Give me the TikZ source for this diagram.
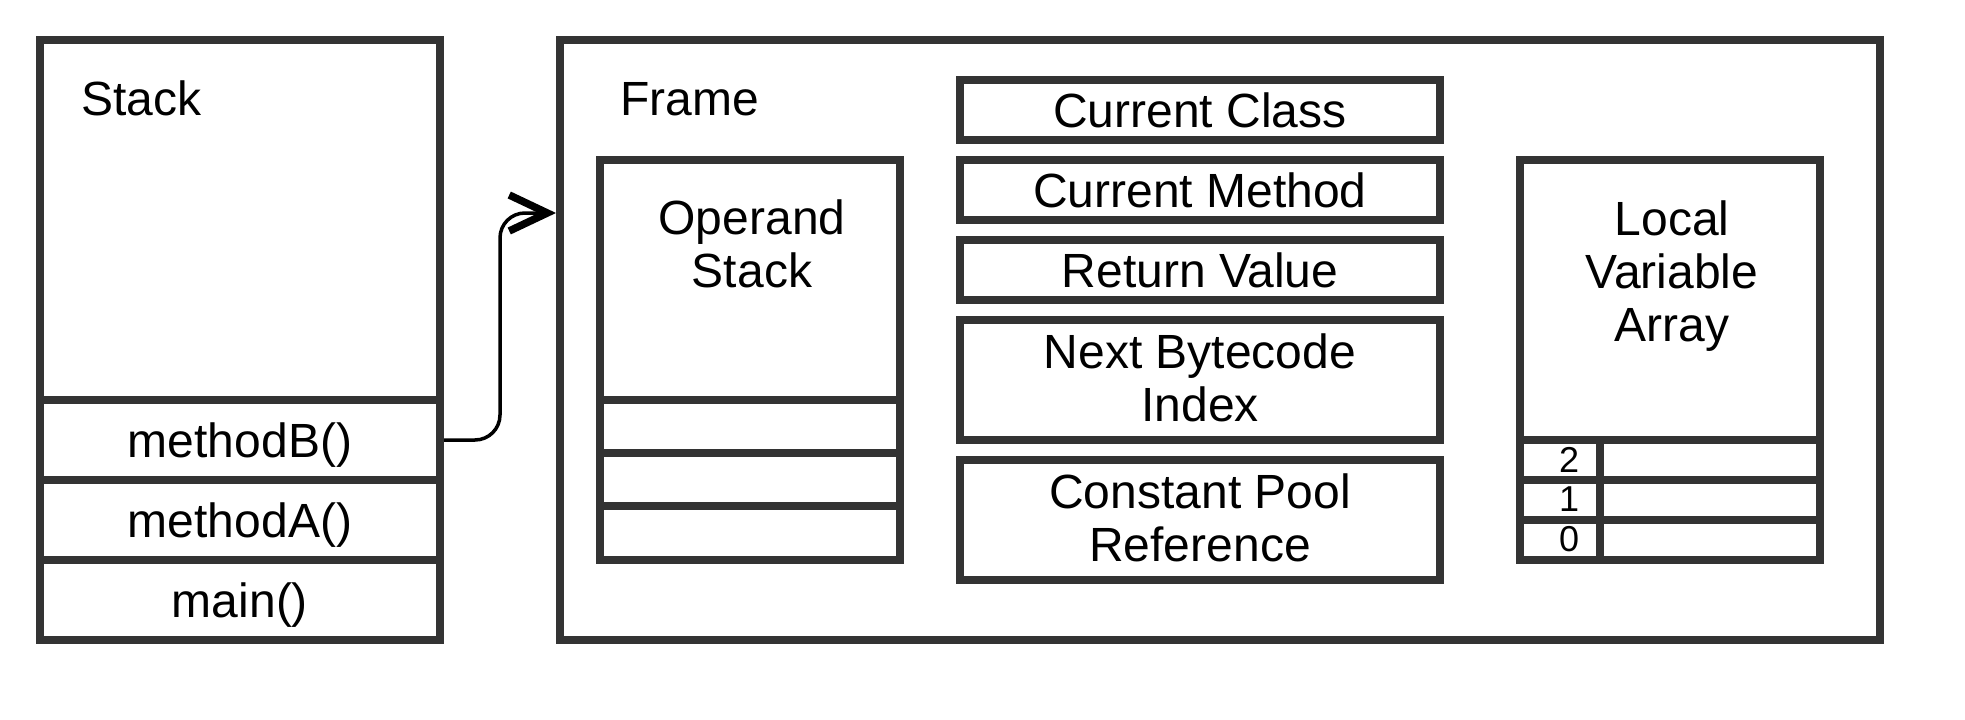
\documentclass[tikz,border=0pt]{standalone}
\usepackage{fontspec}
\setmainfont{Liberation Sans}
\usetikzlibrary{arrows.meta}
\definecolor{edge}{HTML}{333333}
\newcommand{\bigfont}{\fontsize{48pt}{53pt}\selectfont}
\newcommand{\twolines}[2]{\begin{tabular}[t]{@{}c@{}}#1\\#2\end{tabular}}
\newcommand{\threelines}[3]{\begin{tabular}[t]{@{}c@{}}#1\\#2\\#3\end{tabular}}
\tikzset{
  box/.style={draw=edge, line width=8pt, fill=none, inner sep=0pt, rectangle},
  oneline/.style={box, font=\bigfont, text height=34pt, text depth=0pt},
  twoline/.style={box, font=\bigfont, text height=34pt, text depth=58pt},
  title/.style={font=\bigfont, inner sep=0pt, anchor=base},
  titlewest/.style={font=\bigfont, inner sep=0pt, anchor=base west},
  digit/.style={font=\fontsize{36pt}{40pt}\selectfont, inner sep=0pt, anchor=base},
  conn/.style={draw=black, line width=3.5pt, rounded corners=25pt,
    -{Straight Barb[length=38pt,width=36pt,line width=7.5pt]}}
}
\begin{document}
\begin{tikzpicture}[x=1pt,y=-1pt]
  \useasboundingbox (0,0) rectangle (1965,720);

  % call stack
  \node[box, minimum width=400pt, minimum height=600pt] (stack) at (240,340) {};
  \node[titlewest] (stacklbl) at (81,115) {Stack};
  \node[oneline, minimum width=400pt, minimum height=80pt] (mB) at (240,440) {methodB()};
  \node[oneline, minimum width=400pt, minimum height=80pt] (mA) at (240,520) {methodA()};
  \node[oneline, minimum width=400pt, minimum height=80pt] (mn) at (240,600) {main()};

  % frame of the running method
  \node[box, minimum width=1320pt, minimum height=600pt] (frame) at (1220,340) {};
  \node[titlewest] (framelbl) at (620,115) {Frame};

  % operand stack
  \node[box, minimum width=300pt, minimum height=400pt] (ops) at (750,360) {};
  \node[title] (opslbl) at (752,234) {\twolines{Operand}{Stack}};
  \node[box, minimum width=300pt, minimum height=53pt] (ops1) at (750,426.5) {};
  \node[box, minimum width=300pt, minimum height=53pt] (ops2) at (750,479.5) {};
  \node[box, minimum width=300pt, minimum height=54pt] (ops3) at (750,533) {};

  % frame data
  \node[oneline, minimum width=480pt, minimum height=60pt] (cc) at (1200,110) {Current Class};
  \node[oneline, minimum width=480pt, minimum height=60pt] (cm) at (1200,190) {Current Method};
  \node[oneline, minimum width=480pt, minimum height=60pt] (rv) at (1200,270) {Return Value};
  \node[twoline, minimum width=480pt, minimum height=120pt] (nb) at (1200,380) {\twolines{Next Bytecode}{Index}};
  \node[twoline, minimum width=480pt, minimum height=120pt] (cp) at (1200,520) {\twolines{Constant Pool}{Reference}};

  % local variable array
  \node[box, minimum width=300pt, minimum height=400pt] (lva) at (1670,360) {};
  \node[title] (lvalbl) at (1672,235) {\threelines{Local}{Variable}{Array}};
  \node[box, minimum width=80pt, minimum height=40pt] (i2) at (1560,460) {};
  \node[box, minimum width=220pt, minimum height=40pt] (v2) at (1710,460) {};
  \node[box, minimum width=80pt, minimum height=40pt] (i1) at (1560,500) {};
  \node[box, minimum width=220pt, minimum height=40pt] (v1) at (1710,500) {};
  \node[box, minimum width=80pt, minimum height=40pt] (i0) at (1560,540) {};
  \node[box, minimum width=220pt, minimum height=40pt] (v0) at (1710,540) {};
  \node[digit] (d2) at (1569,472) {2};
  \node[digit] (d1) at (1569,511) {1};
  \node[digit] (d0) at (1569,551) {0};

  % methodB() owns the frame
  \draw[conn] (mB.east) -- (500,440) -- (500,213) -- (frame.west |- 0,213);
\end{tikzpicture}
\end{document}
